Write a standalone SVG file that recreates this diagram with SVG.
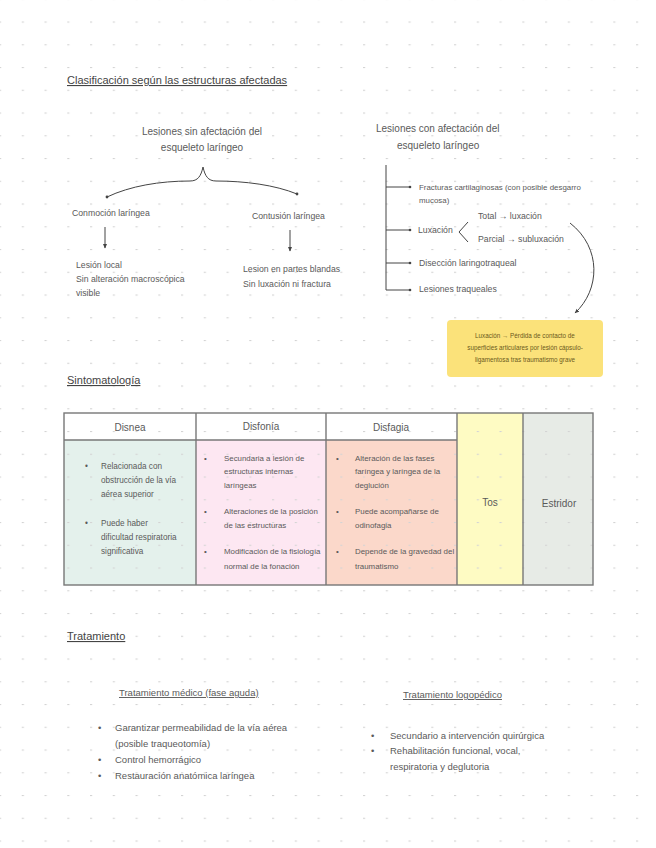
<svg xmlns="http://www.w3.org/2000/svg" width="656" height="848" viewBox="0 0 656 848">
<defs>
<pattern id="dots" x="-1" y="21.5" width="22.75" height="22.75" patternUnits="userSpaceOnUse">
<rect x="0" y="0" width="2.2" height="1.1" fill="#d4d4d4"/>
</pattern>
<marker id="arr" viewBox="0 0 6 6" refX="5" refY="3" markerWidth="5" markerHeight="5" orient="auto">
<path d="M0,0.5 L5.5,3 L0,5.5 Z" fill="#444"/>
</marker>
<style>
text{font-family:"Liberation Sans Narrow","Liberation Sans",Arial,sans-serif;fill:#5a5a5a;}
.t{font-size:10px;}
.tr{font-size:9.5px;}
.h{font-size:11px;fill:#444;text-decoration:underline;}
.s{font-size:8.7px;}
.d{font-size:8.2px;}
.xs{font-size:7.9px;}
.n{font-size:6.3px;fill:#6b5a1c;}
.ln{fill:none;stroke:#444;stroke-width:1;}
.cell{stroke:#777;stroke-width:1.4;}
</style>
</defs>
<rect width="656" height="848" fill="#ffffff"/>

<g id="table-cells">
<rect x="64" y="413" width="393" height="27" fill="#ffffff"/>
<rect x="64" y="440" width="132" height="145" fill="#e4f1ec"/>
<rect x="196" y="440" width="130" height="145" fill="#fde7f2"/>
<rect x="326" y="440" width="131" height="145" fill="#fbd8ca"/>
<rect x="457" y="413" width="66" height="172" fill="#fefbc3"/>
<rect x="523" y="413" width="70" height="172" fill="#e7ebe6"/>
</g>

<rect width="656" height="848" fill="url(#dots)"/>

<g id="table-lines" fill="none" class="cell">
<rect x="64" y="413" width="529" height="172"/>
<line x1="64" y1="440" x2="457" y2="440"/>
<line x1="196" y1="413" x2="196" y2="585"/>
<line x1="326" y1="413" x2="326" y2="585"/>
<line x1="457" y1="413" x2="457" y2="585"/>
<line x1="523" y1="413" x2="523" y2="585"/>
</g>

<g id="title1"><text class="h" x="67" y="84">Clasificación según las estructuras afectadas</text></g>

<g id="sin-afectacion">
<text class="t" x="202" y="135" text-anchor="middle">Lesiones sin afectación del</text>
<text class="t" x="202" y="151" text-anchor="middle">esqueleto laríngeo</text>
</g>

<g id="connectors">
<path class="ln" d="M107,197 C130,186 160,181 190,181 C198,181 201,176 203,167 C205,176 208,181 216,181 C245,181 275,185 297,194"/>
<circle cx="107" cy="197" r="1.4" fill="#444"/>
<circle cx="297" cy="194" r="1.4" fill="#444"/>
<line class="ln" x1="105" y1="227" x2="105" y2="248" marker-end="url(#arr)"/>
<line class="ln" x1="290" y1="230" x2="290" y2="251" marker-end="url(#arr)"/>
<path class="ln" d="M386,165 L386,290 L410,290"/>
<line class="ln" x1="386" y1="187" x2="410" y2="187"/>
<line class="ln" x1="386" y1="230" x2="410" y2="230"/>
<line class="ln" x1="386" y1="263" x2="410" y2="263"/>
<circle cx="410" cy="187" r="1.3" fill="#444"/>
<circle cx="410" cy="230" r="1.3" fill="#444"/>
<circle cx="410" cy="263" r="1.3" fill="#444"/>
<circle cx="410" cy="290" r="1.3" fill="#444"/>
<path class="ln" d="M468,222 L459,232 L468,242"/>
<path class="ln" d="M570,223 C602,248 600,290 575,313" marker-end="url(#arr)"/>
</g>

<g id="conmocion">
<text class="s" x="72" y="216">Conmoción laríngea</text>
<text class="s" x="76" y="268">Lesión local</text>
<text class="s" x="76" y="282">Sin alteración macroscópica</text>
<text class="s" x="76" y="296">visible</text>
</g>

<g id="contusion">
<text class="s" x="252" y="219">Contusión laríngea</text>
<text class="s" x="243" y="272">Lesion en partes blandas</text>
<text class="s" x="243" y="287">Sin luxación ni fractura</text>
</g>

<g id="con-afectacion">
<text class="t" x="376" y="132">Lesiones con afectación del</text>
<text class="t" x="397" y="149">esqueleto laríngeo</text>
</g>

<g id="fracturas">
<text class="xs" x="419" y="190">Fracturas cartilaginosas (con posible desgarro</text>
<text class="xs" x="419" y="203">mucosa)</text>
</g>
<g id="luxacion">
<text class="s" x="418" y="233">Luxación</text>
<text class="s" x="478" y="219">Total → luxación</text>
<text class="s" x="478" y="242">Parcial → subluxación</text>
</g>
<g id="diseccion"><text class="s" x="419" y="266">Disección laringotraqueal</text></g>
<g id="traqueales"><text class="s" x="419" y="292">Lesiones traqueales</text></g>

<g id="nota">
<rect x="447" y="320" width="156" height="57" rx="4" fill="#fbe27a"/>
<text class="n" x="525" y="338" text-anchor="middle">Luxación → Pérdida de contacto de</text>
<text class="n" x="525" y="350" text-anchor="middle">superficies articulares por lesión cápsulo-</text>
<text class="n" x="525" y="362" text-anchor="middle">ligamentosa tras traumatismo grave</text>
</g>

<g id="title2"><text class="h" x="67" y="384">Sintomatología</text></g>

<g id="disnea">
<text class="t" x="130" y="431" text-anchor="middle">Disnea</text>
<text class="d" x="85" y="469">•</text>
<text class="d" x="101" y="469">Relacionada con</text>
<text class="d" x="101" y="483">obstrucción de la vía</text>
<text class="d" x="101" y="497">aérea superior</text>
<text class="d" x="85" y="526">•</text>
<text class="d" x="101" y="526">Puede haber</text>
<text class="d" x="101" y="540">dificultad respiratoria</text>
<text class="d" x="101" y="554">significativa</text>
</g>

<g id="disfonia">
<text class="t" x="261" y="430" text-anchor="middle">Disfonía</text>
<text class="xs" x="204" y="461">•</text>
<text class="xs" x="224" y="461">Secundaria a lesión de</text>
<text class="xs" x="224" y="474">estructuras internas</text>
<text class="xs" x="224" y="488">laríngeas</text>
<text class="xs" x="204" y="514">•</text>
<text class="xs" x="224" y="514">Alteraciones de la posición</text>
<text class="xs" x="224" y="528">de las estructuras</text>
<text class="xs" x="204" y="554">•</text>
<text class="xs" x="224" y="554">Modificación de la fisiología</text>
<text class="xs" x="224" y="569">normal de la fonación</text>
</g>

<g id="disfagia">
<text class="t" x="391" y="431" text-anchor="middle">Disfagia</text>
<text class="xs" x="336" y="461">•</text>
<text class="xs" x="355" y="461">Alteración de las fases</text>
<text class="xs" x="355" y="474">faríngea y laríngea de la</text>
<text class="xs" x="355" y="488">deglución</text>
<text class="xs" x="336" y="514">•</text>
<text class="xs" x="355" y="514">Puede acompañarse de</text>
<text class="xs" x="355" y="528">odinofagia</text>
<text class="xs" x="336" y="554">•</text>
<text class="xs" x="355" y="554">Depende de la gravedad del</text>
<text class="xs" x="355" y="569">traumatismo</text>
</g>

<g id="tos"><text class="t" x="490" y="506" text-anchor="middle">Tos</text></g>
<g id="estridor"><text class="t" x="559" y="507" text-anchor="middle">Estridor</text></g>

<g id="title3"><text class="h" x="67" y="640">Tratamiento</text></g>

<g id="medico">
<text class="tr" x="119" y="696" style="text-decoration:underline">Tratamiento médico (fase aguda)</text>
<text class="tr" x="98" y="731">•</text>
<text class="tr" x="115" y="731">Garantizar permeabilidad de la vía aérea</text>
<text class="tr" x="115" y="747">(posible traqueotomía)</text>
<text class="tr" x="98" y="763">•</text>
<text class="tr" x="115" y="763">Control hemorrágico</text>
<text class="tr" x="98" y="779">•</text>
<text class="tr" x="115" y="779">Restauración anatómica laríngea</text>
</g>

<g id="logopedico">
<text class="tr" x="403" y="698" style="text-decoration:underline">Tratamiento logopédico</text>
<text class="tr" x="371" y="739">•</text>
<text class="tr" x="390" y="739">Secundario a intervención quirúrgica</text>
<text class="tr" x="371" y="754">•</text>
<text class="tr" x="390" y="754">Rehabilitación funcional, vocal,</text>
<text class="tr" x="390" y="770">respiratoria y deglutoria</text>
</g>
</svg>
